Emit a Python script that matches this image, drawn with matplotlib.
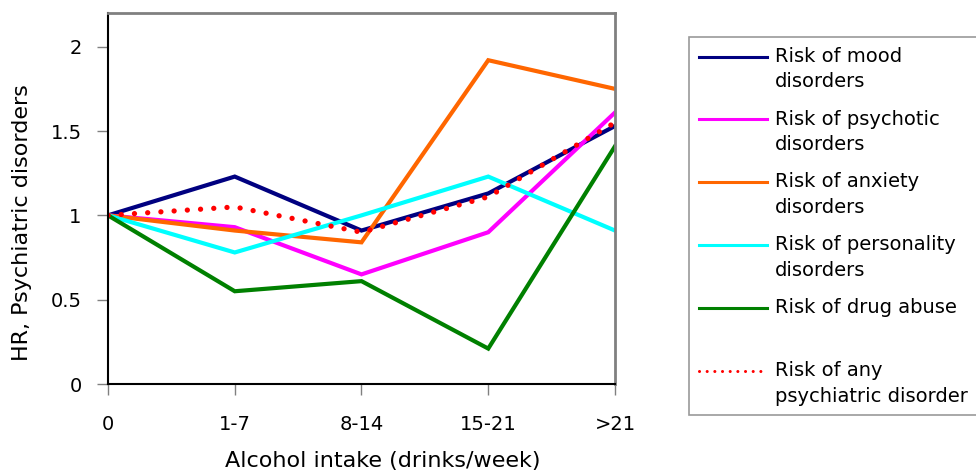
import matplotlib
matplotlib.use("Agg")
import matplotlib.pyplot as plt
from matplotlib.legend_handler import HandlerLine2D

categories = ["0", "1-7", "8-14", "15-21", ">21"]
mood = [1.0, 1.23, 0.91, 1.13, 1.53]
psychotic = [1.0, 0.93, 0.65, 0.90, 1.61]
anxiety = [1.0, 0.91, 0.84, 1.92, 1.75]
personality = [1.0, 0.78, 1.0, 1.23, 0.91]
drug_abuse = [1.0, 0.55, 0.61, 0.21, 1.41]
any_disorder = [1.0, 1.05, 0.90, 1.11, 1.55]

labels = ["Risk of mood\ndisorders", "Risk of psychotic\ndisorders",
          "Risk of anxiety\ndisorders", "Risk of personality\ndisorders",
          "Risk of drug abuse\n ", "Risk of any\npsychiatric disorder"]
colors = ["#000080", "#FF00FF", "#FF6600", "#00FFFF", "#008000", "#FF0000"]

plt.rcParams['font.family'] = ['DejaVu Sans']

fig = plt.figure(figsize=(9.76, 4.75), dpi=100)
ax = fig.add_axes([108/976, 1 - 384/475, (615-108)/976, (384-13)/475])

x = list(range(len(categories)))
series = [mood, psychotic, anxiety, personality, drug_abuse]
handles = []
for vals, c, lab in zip(series, colors[:5], labels[:5]):
    h, = ax.plot(x, vals, color=c, lw=3.0, solid_joinstyle='miter', label=lab)
    handles.append(h)
h, = ax.plot(x, any_disorder, color=colors[5], lw=3.8, linestyle=(0, (0.01, 2.5)),
             dash_capstyle='round', label=labels[5])
handles.append(h)

ax.set_xlim(0, 4)
ax.set_ylim(0, 2.2)
ax.set_xticks(x)
ax.set_xticklabels(categories)
ax.set_yticks([0, 0.5, 1, 1.5, 2])
ax.set_yticklabels(["0", "0.5", "1", "1.5", "2"])
ax.tick_params(axis='both', labelsize=14, length=8, width=1, color='#808080',
               direction='out', pad=11)
ax.tick_params(axis='x', pad=14)
for s in ['top', 'right']:
    ax.spines[s].set_color('#808080')
    ax.spines[s].set_linewidth(2)
for s in ['left', 'bottom']:
    ax.spines[s].set_color('#000000')
    ax.spines[s].set_linewidth(1.5)

ax.set_xlabel("Alcohol intake (drinks/week)", fontsize=16)
ax.xaxis.set_label_coords((383 - 108) / 507, -0.180)
ax.set_ylabel("HR, Psychiatric disorders", fontsize=16)
ax.yaxis.set_label_coords(-0.150, 0.435)


class TopHandler(HandlerLine2D):
    def create_artists(self, legend, orig_handle, xdescent, ydescent, width,
                       height, fontsize, trans):
        arts = super().create_artists(legend, orig_handle, xdescent, ydescent,
                                      width, height, fontsize, trans)
        for a in arts:
            yd = a.get_ydata()
            a.set_ydata([v + 9.5 for v in yd])
        return arts


leg = fig.legend(handles, labels, loc='upper left',
                 bbox_to_anchor=(689/976, 1 - 37/475), bbox_transform=fig.transFigure,
                 fontsize=14, frameon=True, fancybox=False, edgecolor='#808080',
                 borderaxespad=0, handlelength=3.5, handletextpad=0.4,
                 labelspacing=0.93, borderpad=0.5,
                 handler_map={type(handles[0]): TopHandler()})
leg.get_frame().set_linewidth(1.2)
for t in leg.get_texts():
    t.set_linespacing(1.45)
for lh in leg.get_lines():
    lh.set_linewidth(2.2)

fig.savefig("out.png", dpi=100)
